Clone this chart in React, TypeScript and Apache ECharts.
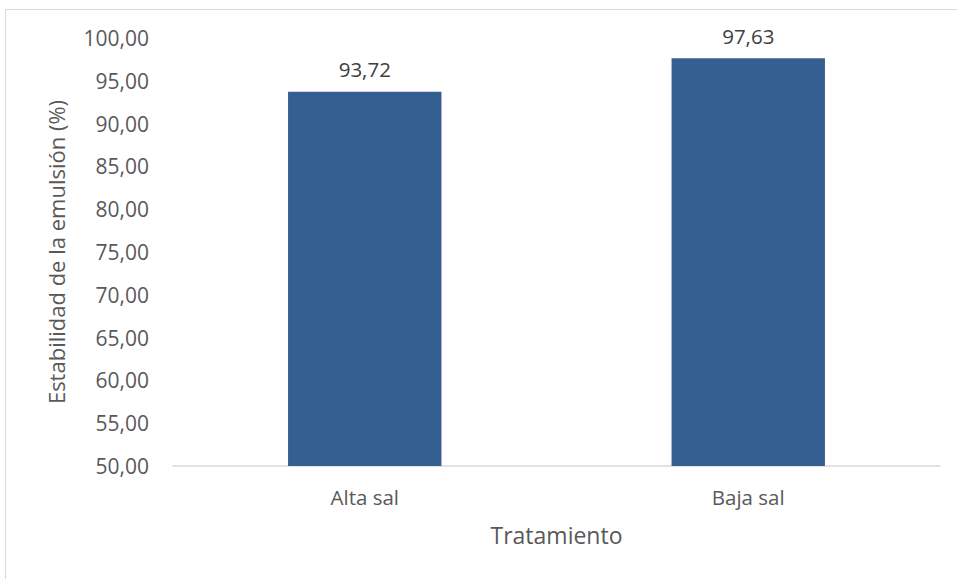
import React, { useEffect, useRef } from "react";
import * as echarts from "echarts";

const categories = ["Alta sal", "Baja sal"];
const values = [93.72, 97.63];
const yMin = 50;
const yMax = 100;
const yInterval = 5;

export default function App() {
  const ref = useRef<HTMLDivElement>(null);
  useEffect(() => {
    if (!ref.current) return;
    const chart = echarts.init(ref.current, null, { renderer: "svg" });
    const font = "'Open Sans', sans-serif";
    const fmt = (v: number) => v.toFixed(2).replace(".", ",");
    chart.setOption({
      animation: false,
      backgroundColor: "#ffffff",
      textStyle: { fontFamily: font },
      graphic: [
        {
          type: "rect",
          shape: { x: 5.5, y: 9.5, width: 960, height: 580 },
          style: { fill: "none", stroke: "#d9d9d9", lineWidth: 1 },
          silent: true,
        },
      ],
      grid: { left: 173, right: 17, top: 38, bottom: 113, containLabel: false },
      xAxis: {
        type: "category",
        data: categories,
        name: "Tratamiento",
        nameLocation: "middle",
        nameGap: 57,
        nameTextStyle: { color: "#595959", fontSize: 23, fontFamily: font },
        axisLine: { lineStyle: { color: "#d9d9d9", width: 1.5 } },
        axisTick: { show: false },
        axisLabel: { color: "#595959", fontSize: 20.5, margin: 20, fontFamily: font },
      },
      yAxis: {
        type: "value",
        min: yMin,
        max: yMax,
        interval: yInterval,
        name: "Estabilidad de la emulsión (%)",
        nameLocation: "middle",
        nameGap: 106,
        nameTextStyle: {
          color: "#595959",
          fontSize: 22,
          fontFamily: font,
        },
        axisLine: { show: false },
        axisTick: { show: false },
        splitLine: { show: false },
        axisLabel: {
          color: "#595959",
          fontSize: 21,
          margin: 24,
          fontFamily: font,
          formatter: (v: number) => fmt(v),
        },
      },
      series: [
        {
          type: "bar",
          data: values,
          barWidth: "40%",
          itemStyle: { color: "#365f91" },
          label: {
            show: true,
            position: "top",
            distance: 12,
            color: "#404040",
            fontSize: 20.5,
            fontFamily: font,
            formatter: (p: any) => fmt(p.value),
          },
        },
      ],
    });
    return () => chart.dispose();
  }, []);
  return (
    <div
      ref={ref}
      style={{ position: "fixed", left: 0, top: 0, width: 957, height: 579 }}
    />
  );
}
